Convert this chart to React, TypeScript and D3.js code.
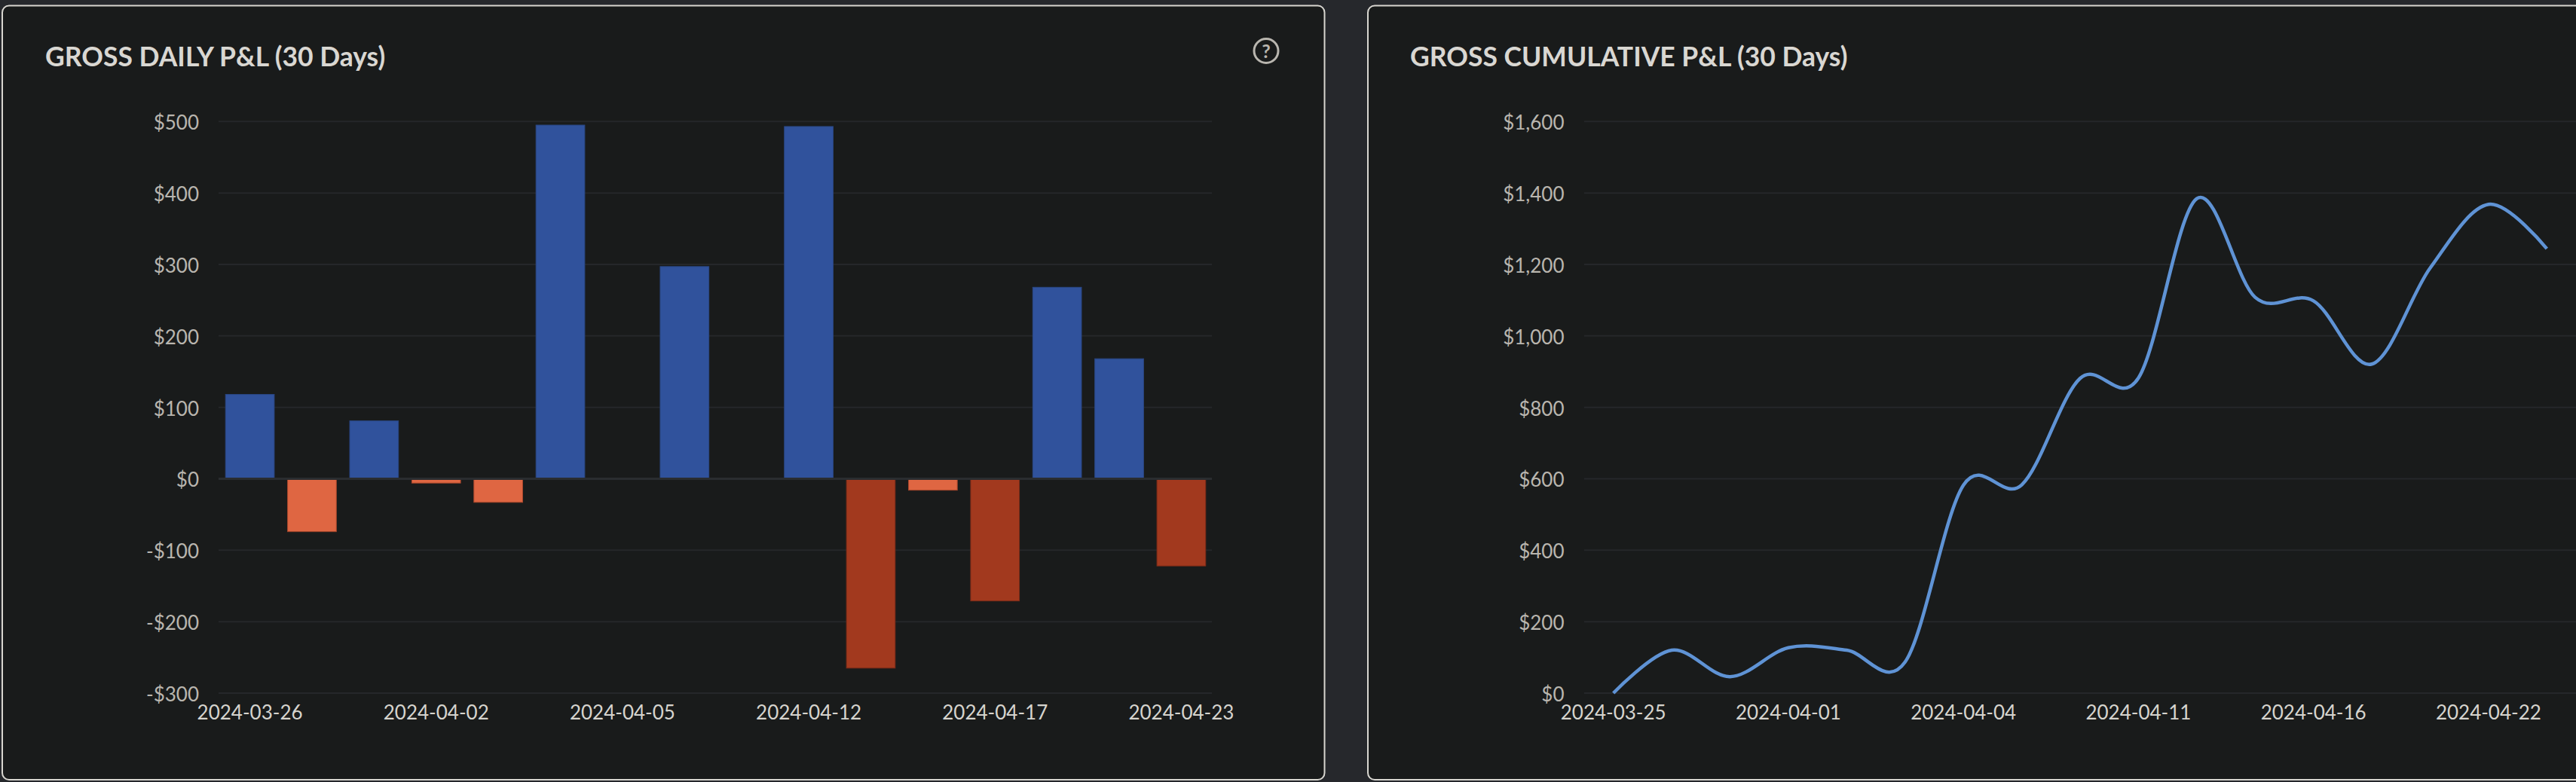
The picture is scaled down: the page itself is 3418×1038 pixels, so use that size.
import * as d3 from "d3";
import React from "react";

const dailyDates = ["2024-03-26","2024-03-28","2024-04-01","2024-04-02","2024-04-03","2024-04-04","2024-04-05","2024-04-08","2024-04-11","2024-04-12","2024-04-15","2024-04-16","2024-04-17","2024-04-18","2024-04-22","2024-04-23"];
const dailyValues = [118,-74,81,-6,-33,495,1,297,1,493,-265,-16,-171,268,168,-122];
const dailyTicks = [500,400,300,200,100,0,-100,-200,-300];
const cumDates = ["2024-03-25","2024-03-26","2024-03-28","2024-04-01","2024-04-02","2024-04-03","2024-04-04","2024-04-05","2024-04-08","2024-04-11","2024-04-12","2024-04-15","2024-04-16","2024-04-17","2024-04-18","2024-04-22","2024-04-23"];
const cumValues = [0,120,46,127,120,87,582,583,881,882,1384,1108,1098,921,1190,1368,1244];
const cumTicks = [1600,1400,1200,1000,800,600,400,200,0];

const FONT = "Lato, sans-serif";
const BG = "#26282c", CARD = "#191b1b", BORDER = "#d8d6d0", GRID = "#25272a", ZERO = "#2a2d30";
const TITLE = "#d9d7d2", YTEXT = "#b9b6af", XTEXT = "#d6d4ce", LINE = "#5f93d5";
const money = (v: number) => `${v < 0 ? "-" : ""}$${d3.format(",")(Math.abs(v))}`;
const barFill = d3.scaleThreshold<number, string>().domain([-100, 0]).range(["#a2391e", "#df6642", "#30529c"]);
const barEdge = d3.scaleThreshold<number, string>().domain([-100, 0]).range(["#7f2c18", "#a8472c", "#2a4784"]);

const TOP = 161.3, BOTTOM = 920;

function Card({ x, w, title, tx }: { x: number; w: number; title: string; tx: number }) {
  return (
    <g>
      <rect x={x} y={7.5} width={w} height={1027.5} rx={9} fill={CARD} stroke={BORDER} strokeWidth={2} />
      <text x={tx} y={88} fontFamily={FONT} fontSize={35.5} fontWeight={700} fill={TITLE}>{title}</text>
    </g>
  );
}

function YAxis({ scale, ticks, x0, x1, lx }: { scale: d3.ScaleLinear<number, number>; ticks: number[]; x0: number; x1: number; lx: number }) {
  return (
    <g>
      {ticks.map((t) => (
        <g key={t}>
          <line x1={x0} x2={x1} y1={scale(t)} y2={scale(t)} stroke={GRID} strokeWidth={2} />
          <text x={lx} y={scale(t) + 11} textAnchor="end" fontFamily={FONT} fontSize={26} fill={YTEXT}>{money(t)}</text>
        </g>
      ))}
    </g>
  );
}

function XLabels({ scale, dates }: { scale: d3.ScaleBand<string>; dates: string[] }) {
  return (
    <g>
      {dates.filter((_, i) => i % 3 === 0).map((d) => (
        <text key={d} x={(scale(d) as number) + scale.bandwidth() / 2} y={955} textAnchor="middle" fontFamily={FONT} fontSize={26} fill={XTEXT}>{d}</text>
      ))}
    </g>
  );
}

export default function App() {
  const x0 = d3.scaleBand<string>().domain(dailyDates).range([291, 1608]).paddingInner(0.215).paddingOuter(0.1);
  const y0 = d3.scaleLinear().domain([-300, 500]).range([BOTTOM, TOP]);
  const x1 = d3.scaleBand<string>().domain(cumDates).range([2102, 3418]);
  const y1 = d3.scaleLinear().domain([0, 1600]).range([BOTTOM, TOP]);
  const line = d3.line<number>()
    .x((_, i) => (x1(cumDates[i]) as number) + x1.bandwidth() / 2)
    .y((v) => y1(v))
    .curve(d3.curveCardinal.tension(0));
  const zeroY = y0(0);

  return (
    <svg width={3418} height={1038} style={{ position: "absolute", left: 0, top: 0, display: "block" }}>
      <rect width={3418} height={1038} fill={BG} />
      <Card x={3} w={1754.5} title="GROSS DAILY P&L (30 Days)" tx={60} />
      <Card x={1815} w={1700} title="GROSS CUMULATIVE P&L (30 Days)" tx={1871} />

      <g>
        <circle cx={1680} cy={67.5} r={16} fill="none" stroke={YTEXT} strokeWidth={3} />
        <text x={1680} y={76.5} textAnchor="middle" fontFamily={FONT} fontSize={25} fontWeight={700} fill={YTEXT}>?</text>
      </g>

      <YAxis scale={y0} ticks={dailyTicks} x0={290} x1={1608} lx={264} />
      {dailyValues.map((v, i) => (
        <rect
          key={dailyDates[i]}
          x={x0(dailyDates[i])}
          width={x0.bandwidth()}
          y={Math.min(y0(v), zeroY)}
          height={Math.abs(y0(v) - zeroY)}
          fill={barFill(v)}
          stroke={barEdge(v)}
          strokeWidth={1}
        />
      ))}
      <line x1={290} x2={1608} y1={zeroY} y2={zeroY} stroke={ZERO} strokeWidth={3} />
      <XLabels scale={x0} dates={dailyDates} />

      <YAxis scale={y1} ticks={cumTicks} x0={2102} x1={3418} lx={2075.5} />
      <path d={line(cumValues) ?? ""} fill="none" stroke={LINE} strokeWidth={4.5} />
      <XLabels scale={x1} dates={cumDates} />
    </svg>
  );
}
